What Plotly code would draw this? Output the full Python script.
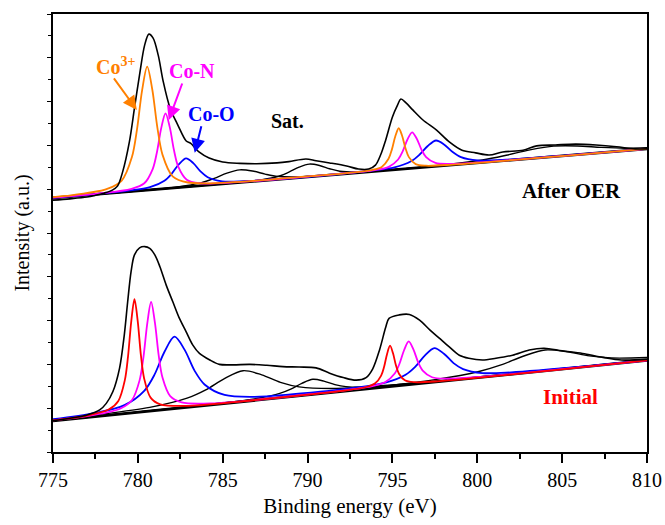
import plotly.graph_objects as go

# ---------------- After OER (upper spectrum) ----------------
oer_raw_x = [775.0, 776.0, 777.0, 777.5, 778.0, 778.5, 778.8, 779.1, 779.5, 779.8, 780.1, 780.4, 780.65,
             780.9, 781.2, 781.5, 781.9, 782.35, 782.85, 783.1, 783.6, 784.2, 785.0, 786.0, 787.0, 788.2,
             788.9, 789.9, 790.5, 791.3, 792.3, 793.0, 793.6, 794.0, 794.3, 794.6, 795.0, 795.3, 795.5,
             795.8, 796.2, 796.8, 797.6, 798.35, 799.1, 799.9, 800.7, 801.5, 802.7, 803.5, 804.6, 805.8,
             807.0, 808.2, 809.3, 810.0]
oer_raw_y = [57.5, 57.8, 58.2, 58.6, 59.1, 59.8, 60.7, 63.9, 70.8, 78.5, 86.1, 92.9, 95.4,
             94.5, 90.6, 84.5, 78.5, 74.7, 71.0, 70.5, 68.5, 67.1, 66.2, 65.9, 65.8, 66.0,
             66.3, 66.9, 66.5, 66.0, 65.3, 64.6, 64.6, 65.5, 67.8, 71.2, 76.5, 79.2, 80.6,
             79.7, 78.1, 75.8, 73.5, 70.8, 68.9, 68.3, 67.8, 68.5, 68.9, 69.9, 70.1, 70.3,
             70.1, 69.7, 69.2, 69.2]

oer_base_x = [775.0, 810.0]
oer_base_y = [58.0, 69.2]

oer_co3_x = [775.0, 775.75, 778.15, 779.05, 779.65, 779.95, 780.25, 780.55, 780.85, 781.15, 781.45, 782.05,
             782.95, 785.35, 790.0, 792.17, 793.77, 794.37, 794.77, 794.97, 795.17, 795.37, 795.57, 795.77,
             795.97, 796.37, 796.97, 798.57, 810.0]
oer_co3_y = [58.2, 58.47, 60.0, 61.98, 67.33, 73.68, 82.58, 87.98, 82.77, 74.07, 67.9, 62.94,
             61.53, 61.54, 62.92, 63.62, 64.38, 65.09, 66.94, 69.09, 72.08, 73.92, 72.21, 69.35,
             67.32, 65.73, 65.36, 65.62, 69.2]

oer_con_x = [775.0, 777.63, 779.63, 780.38, 780.88, 781.13, 781.38, 781.63, 781.88, 782.13, 782.38, 782.88,
             783.63, 785.63, 790.0, 791.76, 793.96, 794.785, 795.335, 795.61, 795.885, 796.16, 796.435,
             796.71, 796.985, 797.535, 798.36, 800.56, 810.0]
oer_con_y = [58.07, 58.99, 60.08, 61.35, 64.66, 68.56, 74.01, 77.32, 74.17, 68.88, 65.14, 62.15,
             61.36, 61.54, 62.89, 63.46, 64.36, 65.11, 66.79, 68.7, 71.34, 72.97, 71.52,
             69.05, 67.32, 65.99, 65.77, 66.25, 69.2]

oer_coo_x = [775.0, 776.04, 779.44, 780.715, 781.565, 781.99, 782.415, 782.84, 783.265, 783.69, 784.115,
             784.965, 786.24, 789.64, 793.65, 795.12, 796.1, 796.59, 797.08, 797.57, 798.06, 798.55,
             799.04, 800.02, 801.49, 805.41, 810.0]
oer_coo_y = [58.05, 58.38, 59.65, 60.45, 61.92, 63.52, 65.69, 67.06, 65.96, 64.06, 62.74,
             61.81, 61.83, 62.73, 64.21, 65.0, 66.39, 67.86, 69.86, 71.12, 70.17, 68.49,
             67.33, 66.57, 66.69, 67.78, 69.21]

oer_sat1_x = [775.0, 780.0, 782.25, 783.75, 784.5, 785.25, 786.0, 786.75, 787.5, 788.25, 789.75, 792.0, 810.0]
oer_sat1_y = [58.02, 59.65, 60.47, 61.49, 62.49, 63.68, 64.42, 64.16, 63.45, 62.93, 62.87, 63.49, 69.21]

oer_sat2_x = [775.0, 785.3, 787.1, 788.3, 788.9, 789.5, 790.1, 790.7, 791.3, 791.9, 793.1, 794.9, 810.0]
oer_sat2_y = [58.0, 61.35, 62.02, 62.95, 63.9, 65.04, 65.73, 65.42, 64.67, 64.1, 63.94, 64.42, 69.2]

oer_sat3_x = [775.0, 793.3, 797.5, 800.3, 801.7, 803.1, 804.5, 805.9, 807.3, 808.7, 810.0]
oer_sat3_y = [58.0, 63.9, 65.32, 66.67, 67.74, 68.98, 69.84, 69.88, 69.54, 69.35, 69.45]

# ---------------- Initial (lower spectrum) ----------------
ini_raw_x = [775.0, 776.0, 776.96, 777.75, 778.14, 778.53, 778.92, 779.2, 779.4, 779.6, 779.8, 780.1,
             780.4, 780.7, 781.0, 781.3, 781.67, 782.06, 782.45, 782.84, 783.24, 783.63, 784.24, 784.8,
             785.6, 786.6, 787.6, 788.55, 789.5, 790.5, 791.3, 792.1, 792.86, 793.45, 793.84, 794.24,
             794.6, 794.8, 795.4, 796.0, 796.6, 797.2, 797.76, 798.35, 798.94, 799.5, 800.3, 801.1,
             802.08, 803.06, 803.94, 805.0, 806.2, 807.4, 808.5, 810.0]
ini_raw_y = [7.15, 7.7, 8.4, 9.6, 11.1, 13.8, 19.1, 26.7, 34.3, 41.2, 45.0, 46.6,
             46.9, 46.5, 45.0, 42.3, 38.1, 34.3, 30.5, 27.5, 24.4, 22.5, 21.0, 20.0,
             19.9, 20.0, 19.8, 19.5, 19.4, 19.2, 18.0, 17.0, 16.4, 17.0, 19.0, 23.3,
             28.4, 30.5, 31.3, 31.4, 30.1, 27.9, 26.0, 24.0, 22.1, 21.4, 21.0, 21.4,
             22.1, 23.3, 23.7, 23.1, 22.5, 21.6, 21.0, 21.2]

ini_base_x = [775.0, 810.0]
ini_base_y = [7.1, 20.9]

ini_red_x = [775.0, 776.76, 778.28, 778.85, 779.23, 779.42, 779.61, 779.8, 779.99, 780.18, 780.37, 780.75,
             781.32, 782.84, 786.0, 790.0, 792.06, 793.46, 793.985, 794.335, 794.51, 794.685, 794.86,
             795.035, 795.21, 795.385, 795.735, 796.26, 797.66, 810.0]
ini_red_y = [7.24, 8.13, 9.69, 11.67, 16.35, 21.79, 29.79, 34.89, 29.94, 22.09, 16.8, 12.42,
             10.88, 10.52, 11.51, 13.08, 13.97, 14.84, 15.68, 17.45, 19.46, 22.39, 24.27,
             22.53, 19.74, 17.87, 16.36, 15.94, 16.14, 20.9]

ini_con_x = [775.0, 777.18, 778.98, 779.655, 780.105, 780.33, 780.555, 780.78, 781.005, 781.23, 781.455,
             781.905, 782.58, 784.38, 790.0, 791.56, 793.76, 794.585, 795.135, 795.41, 795.685, 795.96,
             796.235, 796.51, 796.785, 797.335, 798.16, 800.36, 810.0]
ini_con_y = [7.23, 8.28, 9.92, 11.87, 16.41, 21.65, 29.36, 34.28, 29.53, 22.0, 16.94,
             12.76, 11.34, 11.12, 13.13, 13.8, 14.99, 15.99, 17.93, 20.09, 23.23, 25.26,
             23.45, 20.53, 18.59, 17.07, 16.73, 17.22, 20.92]

ini_coo_x = [775.0, 777.44, 779.21, 780.39, 780.98, 781.57, 782.16, 782.75, 783.34, 783.93, 785.11,
             786.88, 789.0, 792.95, 794.645, 795.775, 796.34, 796.905, 797.47, 798.035, 798.6,
             799.165, 800.295, 801.99, 806.51, 810.0]
ini_coo_y = [7.47, 8.88, 10.7, 14.03, 17.65, 22.9, 26.32, 23.37, 18.58, 15.42, 13.02,
             12.59, 13.13, 14.73, 15.88, 17.64, 19.44, 22.02, 23.72, 22.45, 20.3,
             18.94, 18.03, 18.18, 19.61, 20.95]

ini_sat1_x = [775.0, 777.4, 780.7, 782.9, 784.0, 785.1, 786.2, 787.3, 788.4, 789.5, 791.7, 795.0, 803.8, 810.0]
ini_sat1_y = [7.32, 8.41, 10.18, 12.28, 14.17, 16.75, 18.56, 17.62, 15.91, 14.88, 14.51, 15.33, 18.54, 20.95]

ini_sat2_x = [775.0, 785.11, 787.06, 788.36, 789.01, 789.66, 790.31, 790.96, 791.61, 792.26, 793.56, 795.51,
              800.71, 810.0]
ini_sat2_y = [7.12, 11.25, 12.26, 13.38, 14.36, 15.67, 16.6, 16.19, 15.38, 14.92, 14.82, 15.35,
              17.28, 20.91]

ini_sat3_x = [775.0, 793.6, 797.5, 800.1, 801.4, 802.7, 804.0, 805.3, 806.6, 807.9, 810.0]
ini_sat3_y = [7.1, 14.65, 16.53, 18.39, 19.89, 21.86, 23.3, 22.88, 21.95, 21.47, 21.56]

x_ticks = [775, 780, 785, 790, 795, 800, 805, 810]

ORANGE = "#FF8000"
MAGENTA = "#FF00FF"
BLUE = "#0000FF"
RED = "#FF0000"
BLACK = "#000000"
FONT = "Liberation Serif, Times New Roman, Tinos, DejaVu Serif, serif"

fig = go.Figure()


def add(x, y, color, width, shape="spline"):
    fig.add_trace(go.Scatter(x=x, y=y, mode="lines", showlegend=False, hoverinfo="skip",
                             line=dict(color=color, width=width, shape=shape, smoothing=0.9)))


# baselines
add(oer_base_x, oer_base_y, BLACK, 2.8, "linear")
add(ini_base_x, ini_base_y, BLACK, 2.8, "linear")
# satellites
for sx, sy in [(oer_sat1_x, oer_sat1_y), (oer_sat2_x, oer_sat2_y), (oer_sat3_x, oer_sat3_y),
               (ini_sat1_x, ini_sat1_y), (ini_sat2_x, ini_sat2_y), (ini_sat3_x, ini_sat3_y)]:
    add(sx, sy, BLACK, 1.4)
# components
add(oer_coo_x, oer_coo_y, BLUE, 1.8)
add(oer_con_x, oer_con_y, MAGENTA, 1.8)
add(oer_co3_x, oer_co3_y, ORANGE, 1.8)
add(ini_coo_x, ini_coo_y, BLUE, 1.8)
add(ini_con_x, ini_con_y, MAGENTA, 1.8)
add(ini_red_x, ini_red_y, RED, 1.8)
# raw spectra
add(oer_raw_x, oer_raw_y, BLACK, 1.6)
add(ini_raw_x, ini_raw_y, BLACK, 1.6)

annotations = [
    dict(x=778.71, y=88.1, text="Co<sup>3+</sup>", font=dict(color=ORANGE, size=20, family=FONT, weight="bold")),
    dict(x=783.18, y=87.0, text="Co-N", font=dict(color=MAGENTA, size=20, family=FONT, weight="bold")),
    dict(x=784.35, y=77.2, text="Co-O", font=dict(color=BLUE, size=20, family=FONT, weight="bold")),
    dict(x=788.82, y=75.6, text="Sat.", font=dict(color=BLACK, size=20, family=FONT, weight="bold")),
    dict(x=805.56, y=59.6, text="After OER", font=dict(color=BLACK, size=21, family=FONT, weight="bold")),
    dict(x=805.5, y=12.6, text="Initial", font=dict(color=RED, size=21, family=FONT, weight="bold")),
]
for a in annotations:
    fig.add_annotation(xref="x", yref="y", showarrow=False, xanchor="center", yanchor="middle", **a)

arrows = [
    dict(x=779.94, y=78.1, ax=-24, ay=-33, arrowcolor=ORANGE),
    dict(x=781.82, y=75.8, ax=14, ay=-38, arrowcolor=MAGENTA),
    dict(x=783.35, y=68.3, ax=7, ay=-28, arrowcolor=BLUE),
]
for a in arrows:
    fig.add_annotation(xref="x", yref="y", text="", showarrow=True, arrowhead=2, arrowsize=1.4,
                       arrowwidth=2, standoff=0, startstandoff=0, **a)

fig.update_layout(
    width=665, height=525,
    margin=dict(l=53, r=18, t=14, b=73, autoexpand=False),
    paper_bgcolor="white", plot_bgcolor="white",
    font=dict(family=FONT, color="black", size=20),
    xaxis=dict(range=[775, 810], tickvals=x_ticks, ticks="outside", ticklen=9, tickwidth=1.5,
               tickcolor="black", showline=True, linewidth=2, linecolor="black", mirror=True,
               showgrid=False, zeroline=False, tickfont=dict(size=20, family=FONT), automargin=False,
               minor=dict(dtick=2.5, ticks="outside", ticklen=5, tickwidth=1.5, tickcolor="black", showgrid=False),
               title=dict(text="Binding energy (eV)", font=dict(size=21, family=FONT), standoff=8)),
    yaxis=dict(range=[0, 100], dtick=10, ticks="outside", ticklen=4, tickwidth=1.2, tickcolor="black",
               showticklabels=False, showline=True, linewidth=2, linecolor="black", mirror=True,
               showgrid=False, zeroline=False, automargin=False,
               minor=dict(dtick=5, ticks="outside", ticklen=3, tickwidth=1, tickcolor="black", showgrid=False),
               title=dict(text="Intensity (a.u.)", font=dict(size=20, family=FONT), standoff=12)),
)

fig.write_html("out.html")
